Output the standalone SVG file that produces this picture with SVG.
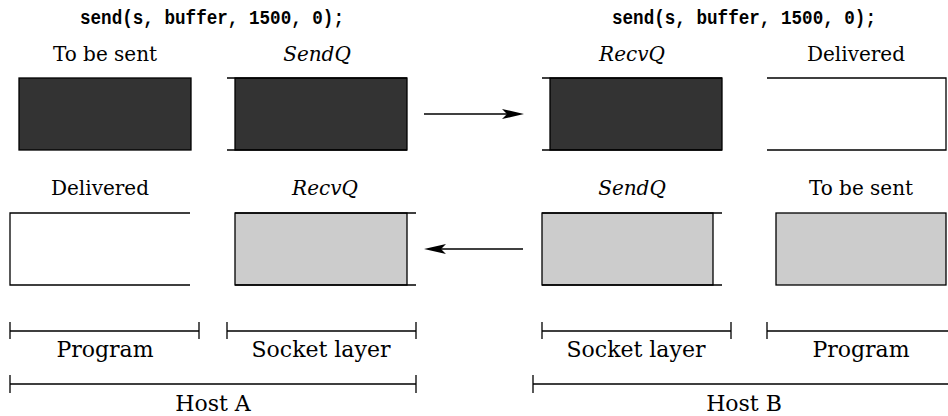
<svg xmlns="http://www.w3.org/2000/svg" width="948" height="416" viewBox="0 0 948 416">
<style>
.code{font-family:"Liberation Mono","DejaVu Sans Mono",monospace;font-weight:bold;font-size:20px;fill:#000}
.lbl{font-family:"DejaVu Serif","Liberation Serif",serif;font-size:20px;fill:#000;text-anchor:middle}
.it{font-style:italic}
.big{font-size:22px}
.dark{fill:#333333;stroke:#000;stroke-width:1.3}
.gray{fill:#cccccc;stroke:#000;stroke-width:1.3}
.ln{fill:none;stroke:#000;stroke-width:1.3}
.ar{fill:#000;stroke:none}
</style>
<rect width="948" height="416" fill="#fff"/>
<text class="code" x="80" y="24" textLength="264" lengthAdjust="spacingAndGlyphs">send(s, buffer, 1500, 0);</text>
<text class="code" x="612" y="24" textLength="264" lengthAdjust="spacingAndGlyphs">send(s, buffer, 1500, 0);</text>

<g id="a-tobesent">
<text class="lbl" x="105" y="61">To be sent</text>
<rect class="dark" x="19" y="78" width="172" height="72"/>
</g>
<g id="a-sendq">
<text class="lbl it" x="317" y="61">SendQ</text>
<rect class="dark" x="235" y="78" width="172" height="72"/>
<path class="ln" d="M227,78H407M227,150H407"/>
</g>
<g id="b-recvq">
<text class="lbl it" x="632" y="61">RecvQ</text>
<rect class="dark" x="550" y="78" width="172" height="72"/>
<path class="ln" d="M542,78H722M542,150H722"/>
</g>
<g id="b-delivered">
<text class="lbl" x="856" y="61">Delivered</text>
<path class="ln" d="M767,78H946V150H767"/>
</g>

<g id="a-delivered">
<text class="lbl" x="100" y="195">Delivered</text>
<path class="ln" d="M190,213H10V285H190"/>
</g>
<g id="a-recvq">
<text class="lbl it" x="325" y="195">RecvQ</text>
<rect class="gray" x="235" y="213" width="172" height="72"/>
<path class="ln" d="M235,213H416M235,285H416"/>
</g>
<g id="b-sendq">
<text class="lbl it" x="632" y="195">SendQ</text>
<rect class="gray" x="542" y="213" width="171" height="72"/>
<path class="ln" d="M542,213H722M542,285H722"/>
</g>
<g id="b-tobesent">
<text class="lbl" x="861" y="195">To be sent</text>
<rect class="gray" x="776" y="213" width="170" height="72"/>
</g>

<g id="connectors">
<path class="ln" d="M424,114H510"/>
<path class="ar" d="M524,114L502,109L507,114L502,119Z"/>
<path class="ln" d="M523,249H438"/>
<path class="ar" d="M424,249L446,244L441,249L446,254Z"/>
</g>

<g id="a-program">
<path class="ln" d="M10,322V339M10,331H199M199,322V339"/>
<text class="lbl big" x="105" y="357">Program</text>
</g>
<g id="a-socket">
<path class="ln" d="M227,322V339M227,331H416M416,322V339"/>
<text class="lbl big" x="321" y="357">Socket layer</text>
</g>
<g id="b-socket">
<path class="ln" d="M542,322V339M542,331H731M731,322V339"/>
<text class="lbl big" x="636" y="357">Socket layer</text>
</g>
<g id="b-program">
<path class="ln" d="M767,322V339M767,331H956M956,322V339"/>
<text class="lbl big" x="861" y="357">Program</text>
</g>
<g id="host-a">
<path class="ln" d="M10,375V393M10,384H416M416,375V393"/>
<text class="lbl big" x="213" y="411">Host A</text>
</g>
<g id="host-b">
<path class="ln" d="M533,375V393M533,384H955M955,375V393"/>
<text class="lbl big" x="744" y="411">Host B</text>
</g>
</svg>
